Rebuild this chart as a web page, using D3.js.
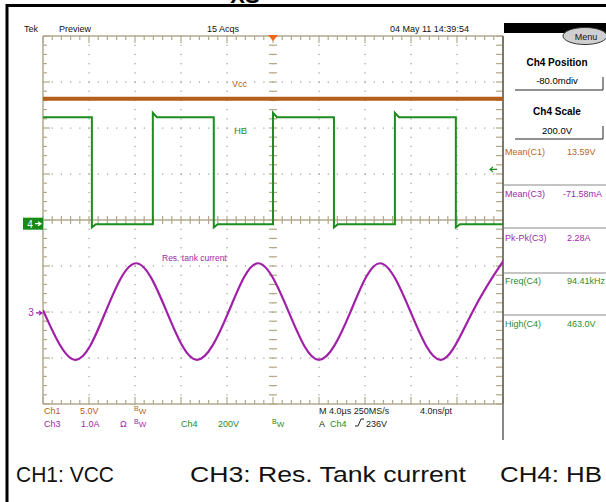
<!DOCTYPE html>
<html><head><meta charset="utf-8">
<script src="https://cdn.jsdelivr.net/npm/d3@7"></script>
<style>
body{margin:0;background:#fff}
svg{display:block}
text{font-family:"Liberation Sans",Arial,sans-serif}
</style>
</head><body>
<svg id="c" width="606" height="502"></svg>
<script>
// ---------------- data ----------------
const timeDomain = [-20, 20];          // µs (4.0 µs/div, 10 div)
const divDomain = [-4, 4];             // vertical divisions
const ch1Scale = 5, ch1Pos = -0.08;    // V/div, div
const ch3Scale = 1, ch3Pos = -2.02;    // A/div, div
const ch4Scale = 200, ch4Pos = -0.08;  // V/div, div
const trigLevel = 236;                 // V on Ch4

const vccTime = [-20, 20];
const vccVolts = [13.59, 13.59];

const hbEdgeTimes = [-15.75, -10.45, -5.15, 0, 5.3, 10.6, 15.9];
const hbHigh = 463, hbLow = -2, hbRiseOvershoot = 482, hbFallDip = -16;

const curTime = [-20, -17.2, -14.6, -11.9, -9.2, -6.6, -3.9, -1.3, 1.4, 4.0, 6.7, 9.3, 12.0, 14.6, 17.3, 19.9, 20];
const curAmps = [0.06, -1.02, 0.0, 1.08, 0.0, -1.02, 0.0, 1.08, 0.0, -1.02, 0.0, 1.08, 0.0, -1.02, 0.0, 1.08, 1.08];

const measLabels = ["Mean(C1)", "Mean(C3)", "Pk-Pk(C3)", "Freq(C4)", "High(C4)"];
const measValues = ["13.59V", "-71.58mA", "2.28A", "94.41kHz", "463.0V"];
const measColors = ["#b8651e", "#a11fa8", "#a11fa8", "#2a8f2a", "#2a8f2a"];
const captions = ["CH1: VCC", "CH3: Res. Tank current", "CH4: HB"];

// ---------------- layout ----------------
const X0 = 43, X1 = 503, Y0 = 36, Y1 = 404;
const C_OR = "#b45f1b", C_GR = "#1e8c1e", C_PU = "#a11fa8", C_GRAT = "#b3a88c";
const svg = d3.select("#c");
const x = d3.scaleLinear().domain(timeDomain).range([X0, X1]);
const yd = d3.scaleLinear().domain(divDomain).range([Y1, Y0]);
const yCh = (pos, sc) => v => yd(pos + v / sc);
const y1 = yCh(ch1Pos, ch1Scale), y3 = yCh(ch3Pos, ch3Scale), y4 = yCh(ch4Pos, ch4Scale);

// frame lines (black)
svg.append("line").attr("x1", 7).attr("x2", 606).attr("y1", 5.5).attr("y2", 5.5).attr("stroke", "#000").attr("stroke-width", 3);
svg.append("line").attr("x1", 7).attr("x2", 7).attr("y1", 4).attr("y2", 502).attr("stroke", "#000").attr("stroke-width", 3);
svg.append("text").attr("x", 245).attr("y", 3).attr("text-anchor", "middle").attr("font-size", 22).attr("font-weight", "bold").text("XS");

// ---------------- graticule ----------------
const g = svg.append("g");
const minorX = d3.range(-20, 20.001, 0.8);
const minorY = d3.range(-4, 4.001, 0.2);
// dotted grid
for (let d = -16; d <= 16; d += 4) {
  if (d === 0) continue;
  g.selectAll(null).data(minorY).enter().append("rect")
    .attr("x", x(d) - 0.5).attr("y", v => yd(v) - 0.5).attr("width", 1.2).attr("height", 1.2).attr("fill", "#9a9a9a");
}
for (let d = -3; d <= 3; d += 1) {
  if (d === 0) continue;
  g.selectAll(null).data(minorX).enter().append("rect")
    .attr("x", t => x(t) - 0.5).attr("y", yd(d) - 0.5).attr("width", 1.2).attr("height", 1.2).attr("fill", "#9a9a9a");
}
// center crosshair
g.append("line").attr("x1", X0).attr("x2", X1).attr("y1", yd(0)).attr("y2", yd(0)).attr("stroke", C_GRAT).attr("stroke-width", 1.3);
g.append("line").attr("x1", x(0)).attr("x2", x(0)).attr("y1", Y0).attr("y2", Y1).attr("stroke", C_GRAT).attr("stroke-width", 1).attr("stroke-dasharray", "1,8.2").attr("opacity", 0.9);
g.selectAll(null).data(minorX).enter().append("line")
  .attr("x1", t => x(t)).attr("x2", t => x(t)).attr("y1", yd(0) - 4).attr("y2", yd(0) + 4).attr("stroke", C_GRAT).attr("stroke-width", 1.2);
g.selectAll(null).data(minorY).enter().append("line")
  .attr("x1", x(0) - 4).attr("x2", x(0) + 4).attr("y1", v => yd(v)).attr("y2", v => yd(v)).attr("stroke", C_GRAT).attr("stroke-width", 1.2);
// border ticks
const isMajX = t => Math.abs(t / 4 - Math.round(t / 4)) < 1e-6;
const isMajY = v => Math.abs(v - Math.round(v)) < 1e-6;
g.selectAll(null).data(minorX).enter().append("line")
  .attr("x1", t => x(t)).attr("x2", t => x(t)).attr("y1", Y0).attr("y2", t => Y0 + (isMajX(t) ? 7 : 4)).attr("stroke", C_GRAT).attr("stroke-width", 1.2);
g.selectAll(null).data(minorX).enter().append("line")
  .attr("x1", t => x(t)).attr("x2", t => x(t)).attr("y1", Y1).attr("y2", t => Y1 - (isMajX(t) ? 7 : 4)).attr("stroke", C_GRAT).attr("stroke-width", 1.2);
g.selectAll(null).data(minorY).enter().append("line")
  .attr("x1", X0).attr("x2", v => X0 + (isMajY(v) ? 7 : 4)).attr("y1", v => yd(v)).attr("y2", v => yd(v)).attr("stroke", C_GRAT).attr("stroke-width", 1.2);
g.selectAll(null).data(minorY).enter().append("line")
  .attr("x1", X1).attr("x2", v => X1 - 7).attr("y1", v => yd(v)).attr("y2", v => yd(v)).attr("stroke", C_GRAT).attr("stroke-width", 1.2);
// border
g.append("line").attr("x1", X0).attr("x2", X1).attr("y1", Y0).attr("y2", Y0).attr("stroke", C_GRAT).attr("stroke-width", 1.5);
g.append("line").attr("x1", X0).attr("x2", X1).attr("y1", Y1).attr("y2", Y1).attr("stroke", C_GRAT).attr("stroke-width", 1.5);
g.append("line").attr("x1", X0).attr("x2", X0).attr("y1", Y0).attr("y2", Y1).attr("stroke", C_GRAT).attr("stroke-width", 1.5);
g.append("line").attr("x1", X1).attr("x2", X1).attr("y1", Y0).attr("y2", Y1).attr("stroke", "#6e6a5a").attr("stroke-width", 1.8);
g.append("line").attr("x1", X1).attr("x2", X1).attr("y1", Y1).attr("y2", 440).attr("stroke", "#888").attr("stroke-width", 2);

// ---------------- traces ----------------
svg.append("clipPath").attr("id", "cp").append("rect").attr("x", X0).attr("y", Y0).attr("width", X1 - X0).attr("height", Y1 - Y0);
const tr = svg.append("g").attr("clip-path", "url(#cp)");

// Ch1 VCC
const vccLine = d3.line().x(d => x(d[0])).y(d => y1(d[1]));
tr.append("path").attr("d", vccLine(d3.zip(vccTime, vccVolts)))
  .attr("fill", "none").attr("stroke", C_OR).attr("stroke-width", 4);

// Ch4 HB
const hbPts = [[timeDomain[0], hbHigh]];
let level = hbHigh;
hbEdgeTimes.forEach(e => {
  const next = level === hbHigh ? hbLow : hbHigh;
  hbPts.push([e, level]);
  hbPts.push([e, next === hbHigh ? hbRiseOvershoot : hbFallDip]);
  hbPts.push([e + 0.35, next]);
  level = next;
});
hbPts.push([timeDomain[1], level]);
const hbLine = d3.line().x(d => x(d[0])).y(d => y4(d[1]));
tr.append("path").attr("d", hbLine(hbPts))
  .attr("fill", "none").attr("stroke", C_GR).attr("stroke-width", 2);

// Ch3 current
const curLine = d3.line().x(d => x(d[0])).y(d => y3(d[1])).curve(d3.curveNatural);
tr.append("path").attr("d", curLine(d3.zip(curTime, curAmps)))
  .attr("fill", "none").attr("stroke", C_PU).attr("stroke-width", 2.2);

// trace labels
svg.append("text").attr("x", 232).attr("y", 87).attr("font-size", 9).attr("fill", C_OR).text("Vcc");
svg.append("text").attr("x", 234).attr("y", 134).attr("font-size", 9.5).attr("fill", C_GR).text("HB");
svg.append("text").attr("x", 162).attr("y", 261).attr("font-size", 8.5).attr("fill", C_PU).text("Res. tank current");

// markers
svg.append("path").attr("d", `M${x(0) - 5},${Y0 - 1} L${x(0) + 5},${Y0 - 1} L${x(0)},${Y0 + 5} Z`).attr("fill", "#f0641e");
const m4 = y4(0);
svg.append("rect").attr("x", 23).attr("y", m4 - 6).attr("width", 20).attr("height", 12).attr("fill", "#178a17");
svg.append("text").attr("x", 30).attr("y", m4 + 4).attr("font-size", 10).attr("fill", "#fff").attr("text-anchor", "middle").text("4");
svg.append("path").attr("d", `M35,${m4} L41,${m4} M38,${m4 - 2} L41,${m4} L38,${m4 + 2}`).attr("stroke", "#fff").attr("stroke-width", 1.2).attr("fill", "none");
const m3 = y3(0);
svg.append("text").attr("x", 31).attr("y", m3 + 3.5).attr("font-size", 10).attr("fill", C_PU).attr("text-anchor", "middle").text("3");
svg.append("path").attr("d", `M36,${m3} L42,${m3} M39,${m3 - 2} L42,${m3} L39,${m3 + 2}`).attr("stroke", C_PU).attr("stroke-width", 1.2).attr("fill", "none");
const mt = y4(trigLevel);
svg.append("path").attr("d", `M490,${mt} L497,${mt} M493,${mt - 2.5} L490,${mt} L493,${mt + 2.5}`).attr("stroke", C_GR).attr("stroke-width", 1.2).attr("fill", "none");

// ---------------- header texts ----------------
const hdr = [["Tek", 24], ["Preview", 59], ["15 Acqs", 207], ["04 May 11 14:39:54", 390]];
svg.selectAll(null).data(hdr).enter().append("text")
  .attr("x", d => d[1]).attr("y", 32).attr("font-size", 9).attr("fill", "#111").text(d => d[0]);

// ---------------- right panel ----------------
svg.append("rect").attr("x", X1 + 1).attr("y", 23).attr("width", 606 - X1).attr("height", 10).attr("fill", "#000");
svg.append("ellipse").attr("cx", 585).attr("cy", 36).attr("rx", 22).attr("ry", 8.5).attr("fill", "#cfcfcf").attr("stroke", "#333").attr("stroke-width", 1);
svg.append("text").attr("x", 586).attr("y", 39.5).attr("font-size", 9).attr("text-anchor", "middle").attr("fill", "#111").text("Menu");
svg.append("text").attr("x", 557).attr("y", 66).attr("font-size", 10).attr("font-weight", "bold").attr("text-anchor", "middle").text("Ch4 Position");
svg.append("text").attr("x", 557).attr("y", 84).attr("font-size", 9.5).attr("text-anchor", "middle").text("-80.0mdiv");
svg.append("path").attr("d", "M515,90 L603,90 L603,77").attr("stroke", "#222").attr("fill", "none").attr("stroke-width", 1);
svg.append("text").attr("x", 557).attr("y", 115).attr("font-size", 10).attr("font-weight", "bold").attr("text-anchor", "middle").text("Ch4 Scale");
svg.append("text").attr("x", 557).attr("y", 134).attr("font-size", 9.5).attr("text-anchor", "middle").text("200.0V");
svg.append("path").attr("d", "M515,139 L603,139 L603,126").attr("stroke", "#222").attr("fill", "none").attr("stroke-width", 1);

const measY = [155, 197, 241, 284, 327];
svg.selectAll(null).data(measLabels).enter().append("text")
  .attr("x", 505).attr("y", (d, i) => measY[i]).attr("font-size", 9).attr("fill", (d, i) => measColors[i]).text(d => d);
svg.selectAll(null).data(measValues).enter().append("text")
  .attr("x", (d, i) => i === 1 ? 563 : 567).attr("y", (d, i) => measY[i]).attr("font-size", 9).attr("fill", (d, i) => measColors[i]).text(d => d);
[185, 228, 273, 315].forEach(yy => {
  svg.append("line").attr("x1", X1 + 1).attr("x2", 606).attr("y1", yy).attr("y2", yy).attr("stroke", "#8a8a8a").attr("stroke-width", 1.2);
});

// ---------------- bottom status ----------------
const st = svg.append("g").attr("font-size", 9);
function bw(xx, yy, col) {
  const t = st.append("text").attr("x", xx).attr("y", yy).attr("fill", col);
  t.append("tspan").attr("font-size", 7).attr("dy", -3).text("B");
  t.append("tspan").attr("font-size", 8).attr("dy", 3).text("W");
}
st.append("text").attr("x", 44).attr("y", 414).attr("fill", C_OR).text("Ch1");
st.append("text").attr("x", 80).attr("y", 414).attr("fill", C_OR).text("5.0V");
bw(134, 414, C_OR);
st.append("text").attr("x", 44).attr("y", 427).attr("fill", C_PU).text("Ch3");
st.append("text").attr("x", 81).attr("y", 427).attr("fill", C_PU).text("1.0A");
st.append("text").attr("x", 120).attr("y", 427).attr("fill", C_PU).text("Ω");
bw(134, 427, C_PU);
st.append("text").attr("x", 181).attr("y", 427).attr("fill", C_GR).text("Ch4");
st.append("text").attr("x", 218).attr("y", 427).attr("fill", C_GR).text("200V");
bw(272, 427, C_GR);
st.append("text").attr("x", 319).attr("y", 414).attr("fill", "#222").text("M 4.0µs 250MS/s");
st.append("text").attr("x", 420).attr("y", 414).attr("fill", "#222").text("4.0ns/pt");
st.append("text").attr("x", 319).attr("y", 427).attr("fill", "#222").text("A");
st.append("text").attr("x", 330).attr("y", 427).attr("fill", C_GR).text("Ch4");
st.append("path").attr("d", "M355,426 L358,426 L361,419 L364,419").attr("stroke", "#222").attr("fill", "none").attr("stroke-width", 1);
st.append("text").attr("x", 366).attr("y", 427).attr("fill", "#222").text("236V");

// ---------------- captions ----------------
const capX = [16, 190, 500];
const capW = [98, 276, 102];
svg.selectAll(null).data(captions).enter().append("text")
  .attr("x", (d, i) => capX[i]).attr("y", 482).attr("font-size", 22).attr("fill", "#111")
  .attr("textLength", (d, i) => capW[i]).attr("lengthAdjust", "spacingAndGlyphs").text(d => d);
</script>
</body></html>
